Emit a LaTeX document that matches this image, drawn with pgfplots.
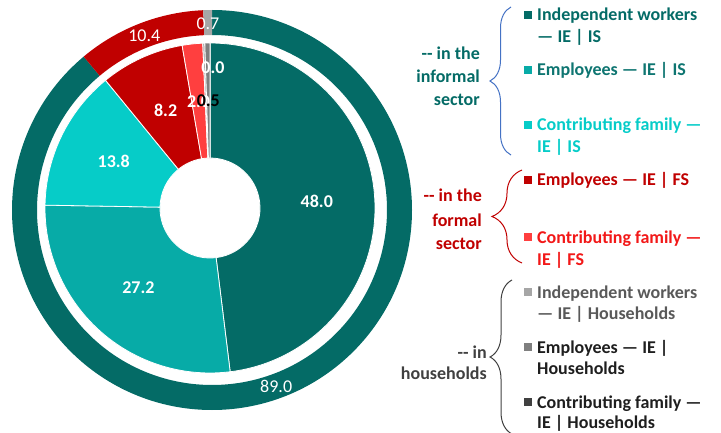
\documentclass[border=0pt]{standalone}
\usepackage{pgfplots}
\pgfplotsset{compat=1.18}
\usepackage{pgfplotstable}
\usepackage{fontspec}
\setmainfont{Carlito}
\usetikzlibrary{decorations.pathreplacing}

\definecolor{tealD}{HTML}{046B66}
\definecolor{tealT}{HTML}{0E7571}
\definecolor{tealM}{HTML}{07ABA7}
\definecolor{cyanL}{HTML}{06CCC8}
\definecolor{redD}{HTML}{C00000}
\definecolor{redL}{HTML}{FF3F3F}
\definecolor{redT}{HTML}{F21818}
\definecolor{greyL}{HTML}{A6A6A6}
\definecolor{greyM}{HTML}{7F7F7F}
\definecolor{greyD}{HTML}{404040}
\definecolor{greyT}{HTML}{595959}
\definecolor{blackT}{HTML}{1E1E1E}
\definecolor{braceBlue}{HTML}{4472C4}

\tikzset{txt/.style={font=\fontsize{18}{21}\selectfont\bfseries, inner sep=0pt}}

% inner ring: by status and sector
\pgfplotstableread{
val  col   lab  lcol  lr  da
48.0 tealD 48.0 white 107 0
27.2 tealM 27.2 white 107 0
13.8 cyanL 13.8 white 107 0
8.2  redD  8.2  white 107 0
2.0  redL  2.0  white 107 0
0.2  greyL {}   white 107 0
0.5  greyM 0.5  black 107 0
0.0  greyD 0.0  white 140 -1.2
}\innerring

% outer ring: by sector
\pgfplotstableread{
val  col   lab  lcol  lr  da
89.0 tealD 89.0 white 188 0
10.4 redD  10.4 white 187 0
0.7  greyL 0.7  white 186 0
}\outerring

% #1 table, #2 cx, #3 cy, #4 inner radius, #5 outer radius, #6 label font, #7 border style
\newcommand\drawring[7]{%
  \pgfplotstablegetrowsof{#1}%
  \pgfmathtruncatemacro\lastrow{\pgfplotsretval-1}%
  \def\ringtot{0}%
  \pgfplotsforeachungrouped \i in {0,...,\lastrow}{%
    \pgfplotstablegetelem{\i}{val}\of{#1}%
    \pgfmathsetmacro\ringtot{\ringtot+\pgfplotsretval}%
  }%
  \def\ringcum{0}%
  \pgfplotsforeachungrouped \i in {0,...,\lastrow}{%
    \pgfplotstablegetelem{\i}{val}\of{#1}\let\sval\pgfplotsretval
    \pgfplotstablegetelem{\i}{col}\of{#1}\let\scol\pgfplotsretval
    \pgfmathsetmacro\angA{90-360*(\ringcum/\ringtot)}%
    \pgfmathsetmacro\ringcum{\ringcum+\sval}%
    \pgfmathsetmacro\angB{90-360*(\ringcum/\ringtot)}%
    \pgfmathsetmacro\pxo{#2+#5*cos(\angA)}%
    \pgfmathsetmacro\pyo{#3+#5*sin(\angA)}%
    \pgfmathsetmacro\pxi{#2+#4*cos(\angB)}%
    \pgfmathsetmacro\pyi{#3+#4*sin(\angB)}%
    \fill[fill=\scol, #7] (axis cs:\pxo,\pyo)
      arc[start angle=\angA, end angle=\angB, radius=#5pt]
      -- (axis cs:\pxi,\pyi)
      arc[start angle=\angB, end angle=\angA, radius=#4pt] -- cycle;
  }%
  \def\ringcum{0}%
  \pgfplotsforeachungrouped \i in {0,...,\lastrow}{%
    \pgfplotstablegetelem{\i}{val}\of{#1}\let\sval\pgfplotsretval
    \pgfplotstablegetelem{\i}{lab}\of{#1}\let\slab\pgfplotsretval
    \pgfplotstablegetelem{\i}{lcol}\of{#1}\let\slcol\pgfplotsretval
    \pgfplotstablegetelem{\i}{lr}\of{#1}\let\slr\pgfplotsretval
    \pgfplotstablegetelem{\i}{da}\of{#1}\let\sda\pgfplotsretval
    \pgfmathsetmacro\angM{90-360*((\ringcum+\sval/2)/\ringtot)+\sda}%
    \pgfmathsetmacro\ringcum{\ringcum+\sval}%
    \pgfmathsetmacro\lx{#2+\slr*cos(\angM)}%
    \pgfmathsetmacro\ly{#3+\slr*sin(\angM)}%
    \node[text=\slcol, font=#6, inner sep=0pt] at (axis cs:\lx,\ly) {\slab};
  }%
}

\begin{document}
\begin{tikzpicture}
\begin{axis}[
    x=1pt, y=1pt,
    xmin=0, xmax=721, ymin=0, ymax=432,
    hide axis, clip=false, disabledatascaling,
]
\pgfplotsextra{%
  \drawring{\outerring}{212}{222}{175}{200}{\fontsize{18}{21}\selectfont}{draw=none}%
  \drawring{\innerring}{210}{224}{50}{165}{\fontsize{18}{21}\selectfont\bfseries}{draw=white, line width=0.8pt}%
}

% group labels
\node[txt, anchor=base east, text=tealD] at (axis cs:480,372) {-{}- in the};
\node[txt, anchor=base east, text=tealD] at (axis cs:480,349) {informal};
\node[txt, anchor=base east, text=tealD] at (axis cs:480,326) {sector};
\node[txt, anchor=base east, text=redD] at (axis cs:482,230) {-{}- in the};
\node[txt, anchor=base east, text=redD] at (axis cs:482,206) {formal};
\node[txt, anchor=base east, text=redD] at (axis cs:482,183) {sector};
\node[txt, anchor=base east, text=greyD] at (axis cs:487,74) {-{}- in};
\node[txt, anchor=base east, text=greyD] at (axis cs:487,53) {households};

% braces
\draw[braceBlue, line width=1pt, decorate, decoration={brace, amplitude=21pt}]
  (axis cs:511,277) -- (axis cs:511,425);
\draw[redD, line width=1pt, decorate, decoration={brace, amplitude=30pt}]
  (axis cs:522,169) -- (axis cs:522,262);
\draw[greyD, line width=1pt, decorate, decoration={brace, amplitude=22pt}]
  (axis cs:512,-2) -- (axis cs:512,152);

% legend entries
\newcommand\sq[1]{\textcolor{#1}{\rule[1.8pt]{8.5pt}{8.5pt}}\hspace{5pt}}
\node[txt, anchor=base west, text=tealD] at (axis cs:523.5,411) {\sq{tealD}Independent workers};
\node[txt, anchor=base west, text=tealD] at (axis cs:537,389) {— IE | IS};
\node[txt, anchor=base west, text=tealT] at (axis cs:523.5,356) {\sq{tealM}Employees — IE | IS};
\node[txt, anchor=base west, text=cyanL] at (axis cs:523.5,301) {\sq{cyanL}Contributing family —};
\node[txt, anchor=base west, text=cyanL] at (axis cs:537,279) {IE | IS};

\node[txt, anchor=base west, text=redD] at (axis cs:523.5,246) {\sq{redD}Employees — IE | FS};
\node[txt, anchor=base west, text=redT] at (axis cs:523.5,189) {\sq{redL}Contributing family —};
\node[txt, anchor=base west, text=redT] at (axis cs:537,167) {IE | FS};

\node[txt, anchor=base west, text=greyT] at (axis cs:523.5,134) {\sq{greyL}Independent workers};
\node[txt, anchor=base west, text=greyT] at (axis cs:537,113) {— IE | Households};
\node[txt, anchor=base west, text=blackT] at (axis cs:523.5,79) {\sq{greyM}Employees — IE |};
\node[txt, anchor=base west, text=blackT] at (axis cs:537,58) {Households};
\node[txt, anchor=base west, text=blackT] at (axis cs:523.5,24) {\sq{greyD}Contributing family —};
\node[txt, anchor=base west, text=blackT] at (axis cs:537,4) {IE | Households};
\end{axis}
\pgfresetboundingbox
\path (current axis.south west) rectangle (current axis.north east);
\end{tikzpicture}
\end{document}
